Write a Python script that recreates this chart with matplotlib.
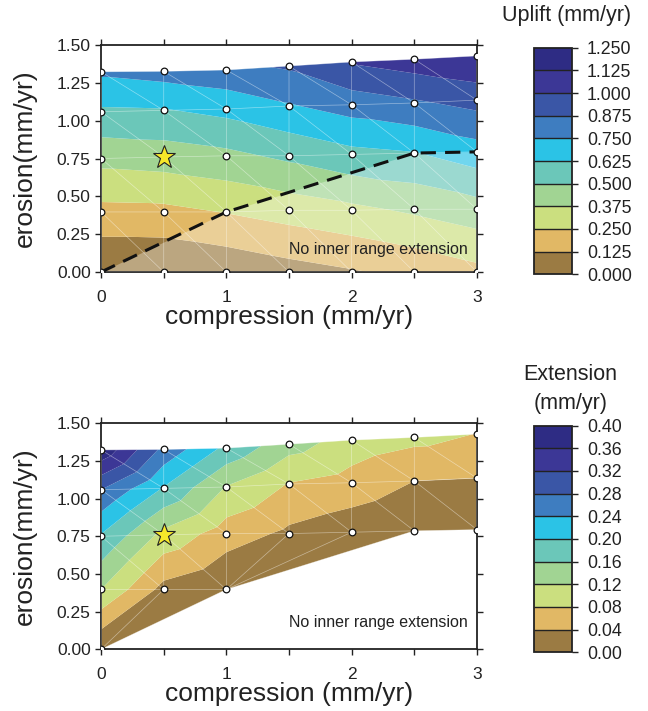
import numpy as np
import matplotlib
matplotlib.use("Agg")
import matplotlib.pyplot as plt
import matplotlib.tri as mtri
from matplotlib.colors import ListedColormap, BoundaryNorm
from matplotlib.cm import ScalarMappable

plt.rcParams['font.family'] = ['Liberation Sans', 'DejaVu Sans']

# ---------------- data ----------------
compression = [0.0, 0.5, 1.0, 1.5, 2.0, 2.5, 3.0]
# erosion of each model node, one list per compression column (bottom -> top)
erosion = [
    [0.0, 0.397, 0.750, 1.059, 1.323],
    [0.0, 0.397, 0.760, 1.068, 1.326],
    [0.0, 0.397, 0.768, 1.077, 1.335],
    [0.0, 0.408, 0.768, 1.097, 1.361],
    [0.0, 0.408, 0.777, 1.105, 1.388],
    [0.0, 0.415, 0.786, 1.117, 1.406],
    [0.0, 0.415, 0.794, 1.136, 1.428],
]
uplift = [
    [0.000, 0.213, 0.412, 0.605, 0.771],
    [0.000, 0.218, 0.434, 0.617, 0.800],
    [0.030, 0.255, 0.470, 0.662, 0.837],
    [0.076, 0.304, 0.525, 0.739, 0.890],
    [0.114, 0.345, 0.591, 0.805, 1.010],
    [0.157, 0.396, 0.620, 0.858, 1.068],
    [0.216, 0.448, 0.696, 0.921, 1.120],
]
nan = np.nan
extension = [
    [0.000, 0.120, 0.196, 0.280, 0.390],
    [nan,   0.027, 0.108, 0.197, 0.269],
    [nan,   0.000, 0.060, 0.118, 0.190],
    [nan,   nan,   0.032, 0.078, 0.136],
    [nan,   nan,   0.016, 0.064, 0.104],
    [nan,   nan,   0.000, 0.040, 0.091],
    [nan,   nan,   0.000, 0.040, 0.079],
]
star_compression, star_erosion = 0.5, 0.76

uplift_levels = [0.0, 0.125, 0.25, 0.375, 0.5, 0.625, 0.75, 0.875, 1.0, 1.125, 1.25]
extension_levels = [0.0, 0.04, 0.08, 0.12, 0.16, 0.20, 0.24, 0.28, 0.32, 0.36, 0.40]
band_colors = ['#9B7B43', '#E1B865', '#CBDF7F', '#A1D493', '#6BC7B9',
               '#2BC3E6', '#3E7DC0', '#3A56A6', '#3C3796', '#2E2C84']

# ---------------- geometry ----------------
ncol, nrow = len(compression), len(erosion[0])
X = np.array([[compression[c]] * nrow for c in range(ncol)]).ravel()
Y = np.array(erosion).ravel()
U = np.array(uplift).ravel()
E = np.array(extension).ravel()

def idx(c, r):
    return c * nrow + r

tris_all = []
for c in range(ncol - 1):
    for r in range(nrow - 1):
        bl, br, tl, tr = idx(c, r), idx(c + 1, r), idx(c, r + 1), idx(c + 1, r + 1)
        tris_all.append([bl, br, tl])
        tris_all.append([br, tr, tl])
tris_all = np.array(tris_all)

valid = np.isfinite(E)
tris_ext = [t for t in tris_all if valid[t].all()]
# extra triangles closing the extension domain along its lower limit
tris_ext += [[idx(0, 0), idx(1, 1), idx(0, 1)],
             [idx(0, 0), idx(2, 1), idx(1, 1)],
             [idx(2, 1), idx(3, 2), idx(2, 2)],
             [idx(2, 1), idx(4, 2), idx(3, 2)],
             [idx(2, 1), idx(5, 2), idx(4, 2)]]
tris_ext = np.array(tris_ext)

tri_u = mtri.Triangulation(X, Y, tris_all)
tri_e = mtri.Triangulation(X, Y, tris_ext)

# limit of inner-range extension (nodes where extension is zero)
zero = valid & (np.nan_to_num(E, nan=1) == 0)
lim_x, lim_y = X[zero], Y[zero]
order = np.argsort(lim_x)
lim_x, lim_y = lim_x[order], lim_y[order]

cmap = ListedColormap(band_colors)
TXT = '#222222'

fig = plt.figure(figsize=(6.48, 7.11), dpi=100)
ax1 = fig.add_axes([0.156, 0.6174, 0.580, 0.3193])
ax2 = fig.add_axes([0.156, 0.0868, 0.580, 0.3179])
cax1 = fig.add_axes([0.824, 0.6142, 0.0593, 0.3187])
cax2 = fig.add_axes([0.824, 0.0826, 0.0593, 0.3187])

def style_axes(ax):
    ax.set_xlim(0, 3)
    ax.set_ylim(0, 1.5)
    ax.set_xticks([0, 1, 2, 3])
    ax.set_xticklabels(['0', '1', '2', '3'])
    ax.set_xticks([0.5, 1.5, 2.5], minor=True)
    ax.set_yticks(np.arange(0, 1.51, 0.25))
    ax.set_yticklabels(['%.2f' % v for v in np.arange(0, 1.51, 0.25)])
    ax.tick_params(which='both', direction='out', top=True, right=True,
                   length=4, width=1, labelsize=12.5, colors=TXT)
    ax.tick_params(axis='x', which='both', pad=9)
    for s in ax.spines.values():
        s.set_linewidth(1.3)
        s.set_color(TXT)
    ax.set_xlabel('compression (mm/yr)', fontsize=19, color=TXT, labelpad=0)
    ax.set_ylabel('erosion(mm/yr)', fontsize=19, color=TXT, labelpad=14)

# ---- top: uplift ----
norm1 = BoundaryNorm(uplift_levels, cmap.N)
ax1.tricontourf(tri_u, U, levels=uplift_levels, cmap=cmap, norm=norm1, antialiased=True)
ax1.fill_between(lim_x, 0, lim_y, color='white', alpha=0.33, lw=0, zorder=2)
ax1.triplot(tri_u, color='white', lw=0.5, alpha=0.45, zorder=3)
ax1.plot(lim_x, lim_y, color='#111111', lw=2.2, dashes=(5, 3), zorder=4)
ax1.plot(X, Y, 'o', ms=4.8, mfc='white', mec='#111111', mew=0.9, zorder=5)
ax1.plot(star_compression, star_erosion, '*', ms=17, mfc='#F7E82A', mec=TXT, mew=0.8, zorder=6)
ax1.text(2.93, 0.15, 'No inner range extension', ha='right', va='center', fontsize=11.5, color=TXT, zorder=6)
style_axes(ax1)

# ---- bottom: extension ----
norm2 = BoundaryNorm(extension_levels, cmap.N)
ax2.tricontourf(tri_e, E, levels=extension_levels, cmap=cmap, norm=norm2, antialiased=True)
ax2.triplot(tri_e, color='white', lw=0.5, alpha=0.45, zorder=3)
ax2.plot(X[valid], Y[valid], 'o', ms=4.8, mfc='white', mec='#111111', mew=0.9, zorder=5)
ax2.plot(star_compression, star_erosion, '*', ms=17, mfc='#F7E82A', mec=TXT, mew=0.8, zorder=6)
ax2.text(2.93, 0.18, 'No inner range extension', ha='right', va='center', fontsize=11.5, color=TXT, zorder=6)
style_axes(ax2)

# ---- colorbars ----
def make_cbar(cax, levels, norm, fmt):
    sm = ScalarMappable(norm=norm, cmap=cmap)
    cb = fig.colorbar(sm, cax=cax, drawedges=True, ticks=levels)
    cb.ax.set_yticklabels([fmt % v for v in levels])
    cb.outline.set_linewidth(1.3)
    cb.outline.set_edgecolor(TXT)
    cb.dividers.set_color(TXT)
    cb.dividers.set_linewidth(1.0)
    cb.ax.tick_params(direction='out', length=4, width=1, labelsize=12.8, pad=6.5, colors=TXT)
    return cb

make_cbar(cax1, uplift_levels, norm1, '%.3f')
make_cbar(cax2, extension_levels, norm2, '%.2f')
fig.text(0.874, 0.978, 'Uplift (mm/yr)', ha='center', va='center', fontsize=15.5, color=TXT)
fig.text(0.880, 0.473, 'Extension', ha='center', va='center', fontsize=15.5, color=TXT)
fig.text(0.880, 0.433, '(mm/yr)', ha='center', va='center', fontsize=15.5, color=TXT)

fig.savefig('out.png', dpi=100)
